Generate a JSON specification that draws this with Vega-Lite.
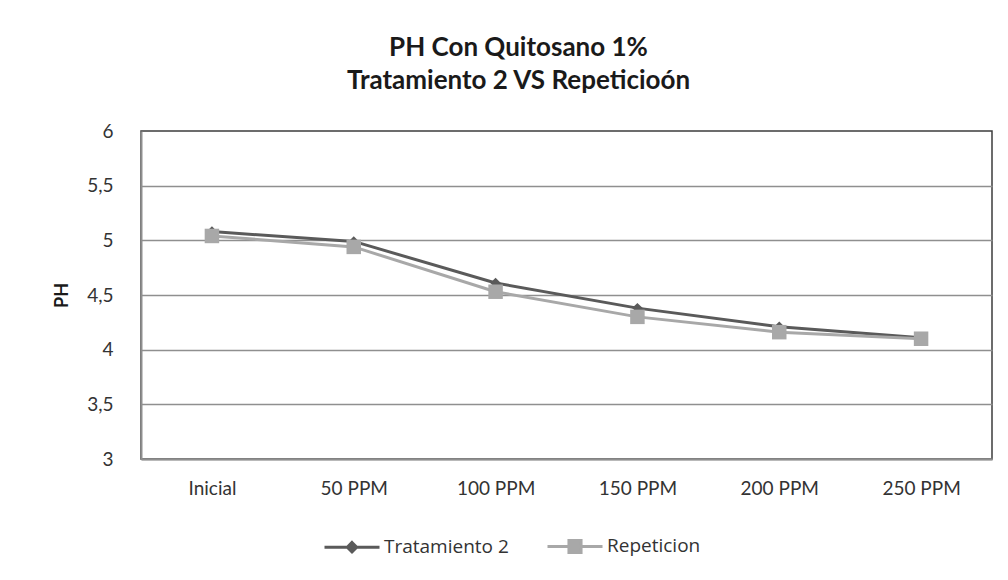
{
  "$schema": "https://vega.github.io/schema/vega-lite/v6.json",
  "autosize": {"type": "none"},
  "width": 851,
  "height": 328,
  "padding": {"left": 141, "top": 131, "right": 16, "bottom": 121},
  "background": "white",
  "title": {
    "text": ["PH Con Quitosano 1%", "Tratamiento 2 VS Repeticioón"],
    "font": "Lato",
    "fontSize": 26,
    "fontWeight": "bold",
    "color": "#1a1a1a",
    "anchor": "middle",
    "dx": -48,
    "offset": 28,
    "lineHeight": 33
  },
  "data": {
    "values": [
      {"serie": "Tratamiento 2", "cat": "Inicial", "ph": 5.08},
      {"serie": "Tratamiento 2", "cat": "50 PPM", "ph": 4.99},
      {"serie": "Tratamiento 2", "cat": "100 PPM", "ph": 4.61},
      {"serie": "Tratamiento 2", "cat": "150 PPM", "ph": 4.38},
      {"serie": "Tratamiento 2", "cat": "200 PPM", "ph": 4.21},
      {"serie": "Tratamiento 2", "cat": "250 PPM", "ph": 4.11},
      {"serie": "Repeticion", "cat": "Inicial", "ph": 5.04},
      {"serie": "Repeticion", "cat": "50 PPM", "ph": 4.94},
      {"serie": "Repeticion", "cat": "100 PPM", "ph": 4.53},
      {"serie": "Repeticion", "cat": "150 PPM", "ph": 4.30},
      {"serie": "Repeticion", "cat": "200 PPM", "ph": 4.16},
      {"serie": "Repeticion", "cat": "250 PPM", "ph": 4.10}
    ]
  },
  "encoding": {
    "x": {
      "field": "cat",
      "type": "ordinal",
      "sort": ["Inicial", "50 PPM", "100 PPM", "150 PPM", "200 PPM", "250 PPM"],
      "scale": {"type": "point", "padding": 0.5},
      "axis": {
        "title": null,
        "labelAngle": 0,
        "ticks": false,
        "labelPadding": 20,
        "labelFont": "Lato",
        "labelFontSize": 19,
        "labelColor": "#333333",
        "domainColor": "#8f8f8f",
        "domainWidth": 2,
        "grid": false
      }
    },
    "y": {
      "field": "ph",
      "type": "quantitative",
      "scale": {"domain": [3, 6], "nice": false, "zero": false},
      "axis": {
        "title": "PH",
        "titleFont": "Lato",
        "titleFontSize": 18,
        "titleFontWeight": "bold",
        "titleColor": "#1a1a1a",
        "titlePadding": 15,
        "values": [3, 3.5, 4, 4.5, 5, 5.5, 6],
        "labelExpr": "replace(format(datum.value, '~g'), '.', ',')",
        "labelFont": "Lato",
        "labelFontSize": 19,
        "labelColor": "#333333",
        "labelPadding": 28,
        "ticks": false,
        "domainColor": "#8f8f8f",
        "domainWidth": 2,
        "grid": true,
        "gridColor": {"condition": {"test": "datum.value == 6", "value": "transparent"}, "value": "#8f8f8f"},
        "gridWidth": 1.3
      }
    },
    "color": {
      "field": "serie",
      "type": "nominal",
      "sort": ["Tratamiento 2", "Repeticion"],
      "scale": {"domain": ["Tratamiento 2", "Repeticion"], "range": ["#5a5a5a", "#a8a8a8"]},
      "legend": {
        "title": null,
        "orient": "none",
        "direction": "horizontal",
        "legendX": 182,
        "legendY": 386,
        "symbolSize": 3025,
        "symbolStrokeWidth": 3,
        "labelFont": "Open Sans",
        "labelFontSize": 19,
        "labelColor": "#333333",
        "labelOffset": 3,
        "columnPadding": 32,
        "encode": {
          "symbols": {
            "update": {
              "shape": {"signal": "datum.value === 'Tratamiento 2' ? 'M-1,0H1M0,-0.17L0.17,0L0,0.17L-0.17,0Z' : 'M-1,0H1M-0.22,-0.22H0.22V0.22H-0.22Z'"},
              "size": {"value": 3025},
              "fill": {"signal": "datum.value === 'Tratamiento 2' ? '#5a5a5a' : '#a8a8a8'"},
              "stroke": {"signal": "datum.value === 'Tratamiento 2' ? '#5a5a5a' : '#a8a8a8'"},
              "strokeWidth": {"value": 3},
              "opacity": {"value": 1},
              "fillOpacity": {"value": 1}
            }
          }
        }
      }
    }
  },
  "layer": [
    {
      "mark": {"type": "line", "strokeWidth": 3}
    },
    {
      "transform": [{"filter": "datum.serie === 'Tratamiento 2'"}],
      "mark": {"type": "point", "filled": true, "opacity": 1, "shape": "diamond", "size": 110}
    },
    {
      "transform": [{"filter": "datum.serie === 'Repeticion'"}],
      "mark": {"type": "point", "filled": true, "opacity": 1, "shape": "square", "size": 210}
    }
  ],
  "config": {
    "view": {"stroke": "#3c3c3c", "strokeWidth": 1.5}
  }
}
